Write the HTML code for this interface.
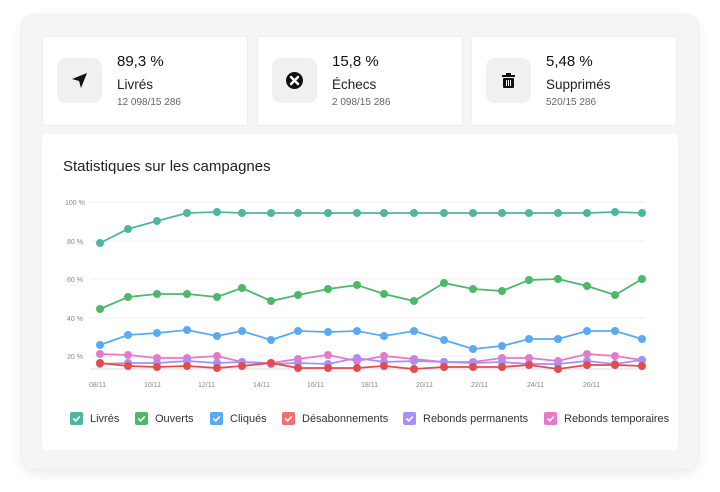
<!DOCTYPE html>
<html><head><meta charset="utf-8"><style>
body{margin:0;width:720px;height:492px;background:#fff;font-family:"Liberation Sans",sans-serif;position:relative;overflow:hidden}
.outer{position:absolute;left:21px;top:14px;width:678px;height:456px;background:#f4f5f7;border-radius:14px;box-shadow:0 4px 12px rgba(0,0,0,0.08);border:1px solid #eceef1;box-sizing:border-box}
.card{position:absolute;background:#fff;border-radius:3px;border:1px solid #eceef0;box-sizing:border-box}
.ic{position:absolute;left:14px;top:21px;width:45px;height:45px;background:#eef0f2;border-radius:9px}
.ic svg{position:absolute;left:12px;top:12px}
.v{position:absolute;left:74px;top:16px;font-size:15px;color:#111}
.l{position:absolute;left:74px;top:40px;font-size:13.5px;color:#222}
.s{position:absolute;left:74px;top:60px;font-size:10px;color:#666}
</style></head><body>
<div class="outer"></div>
<div class="card" style="left:42px;top:36px;width:206px;height:90px">
<div class="ic"><svg width="21" height="21" viewBox="0 0 21 21"><path d="M3 9 L18 3 L12 18 L10 11 Z" fill="#111"/></svg></div>
<div class="v">89,3 %</div><div class="l">Livrés</div><div class="s">12 098/15 286</div></div>
<div class="card" style="left:257px;top:36px;width:206px;height:90px">
<div class="ic"><svg width="21" height="21" viewBox="0 0 21 21"><circle cx="10.5" cy="10.5" r="8.5" fill="#111"/><path d="M7 7 L14 14 M14 7 L7 14" stroke="#fff" stroke-width="2.4" stroke-linecap="round"/></svg></div>
<div class="v">15,8 %</div><div class="l">Échecs</div><div class="s">2 098/15 286</div></div>
<div class="card" style="left:471px;top:36px;width:206px;height:90px">
<div class="ic"><svg width="21" height="21" viewBox="0 0 21 21"><rect x="4" y="5" width="13" height="2" fill="#111"/><rect x="8" y="3" width="5" height="2" fill="#111"/><rect x="5" y="8" width="11" height="10" rx="1" fill="#111"/><path d="M8.5 10v6M10.5 10v6M12.5 10v6" stroke="#fff" stroke-width="1"/></svg></div>
<div class="v">5,48 %</div><div class="l">Supprimés</div><div class="s">520/15 286</div></div>
<div class="card" style="left:42px;top:134px;width:636px;height:316px;border:none">
<div style="position:absolute;left:21px;top:24px;font-size:15px;color:#222">Statistiques sur les campagnes</div></div>
<svg style="position:absolute;left:0;top:0" width="720" height="492" font-family="Liberation Sans, sans-serif">
<g stroke="#eeeff1" stroke-width="1">
<line x1="90" y1="202" x2="645" y2="202"/><line x1="90" y1="241" x2="645" y2="241"/><line x1="90" y1="279" x2="645" y2="279"/><line x1="90" y1="318" x2="645" y2="318"/><line x1="90" y1="356" x2="645" y2="356"/>
</g>
<line x1="90" y1="369" x2="645" y2="369" stroke="#ddd"/>
<g font-size="7" fill="#888">
<text x="65" y="205">100 %</text><text x="67" y="244">80 %</text><text x="67" y="282">60 %</text><text x="67" y="321">40 %</text><text x="67" y="359">20 %</text>
<text x="89" y="387">08/11</text><text x="144" y="387">10/11</text><text x="198" y="387">12/11</text><text x="253" y="387">14/11</text><text x="307" y="387">16/11</text><text x="361" y="387">18/11</text><text x="416" y="387">20/11</text><text x="471" y="387">22/11</text><text x="527" y="387">24/11</text><text x="583" y="387">26/11</text>
</g>
<g id="s"></g>
</svg>
<div style="position:absolute;left:70px;top:412px;font-size:11px;color:#333;white-space:nowrap">
<span id="lg"></span></div>
<script>
const xs=[100,128,157,187,217,242,271,298,328,357,384,414,444,473,502,529,558,587,615,642];
const S=[
["#e67ac8",[354,355,358,358,356,362,363,359,355,361,356,359,362,362,358,358,361,354,356,360]],
["#a98ff5",[364,363,363,361,363,362,364,363,364,358,362,361,362,363,362,364,364,361,364,360]],
["#e24c4c",[363,366,367,366,368,366,363,368,368,368,366,369,367,367,367,365,369,365,365,366]],
["#5aa9f5",[345,335,333,330,336,331,340,331,332,331,336,331,340,349,346,339,339,331,331,339]],
["#4cb86a",[309,297,294,294,297,288,301,295,289,285,294,301,283,289,291,280,279,286,295,279]],
["#4db6a0",[243,229,221,213,212,213,213,213,213,213,213,213,213,213,213,213,213,213,212,213]]];
let h='';
for(const [c,ys] of S){h+=`<polyline fill="none" stroke="${c}" stroke-width="1.8" points="${ys.map((y,i)=>xs[i]+','+y).join(' ')}"/>`;
ys.forEach((y,i)=>h+=`<circle cx="${xs[i]}" cy="${y}" r="4" fill="${c}"/>`);}
document.getElementById('s').innerHTML=h;
const L=[["#4db6a0","Livrés",0],["#4cb86a","Ouverts",65],["#5aa9f5","Cliqués",140],["#f07070","Désabonnements",212],["#a98ff5","Rebonds permanents",333],["#e67ac8","Rebonds temporaires",474]];
let g='';
for(const [c,t,x] of L){g+=`<span style="position:absolute;left:${x}px;top:0;display:inline-flex;align-items:center"><span style="display:inline-block;width:13px;height:13px;background:${c};border-radius:2px;margin-right:7px;position:relative"><svg width="13" height="13" style="position:absolute;left:0;top:0"><path d="M3.3 6.5 L5.7 8.9 L9.8 4.5" stroke="#fff" stroke-width="1.6" fill="none"/></svg></span>${t}</span>`;}
document.getElementById('lg').innerHTML=g;
</script>
</body></html>
